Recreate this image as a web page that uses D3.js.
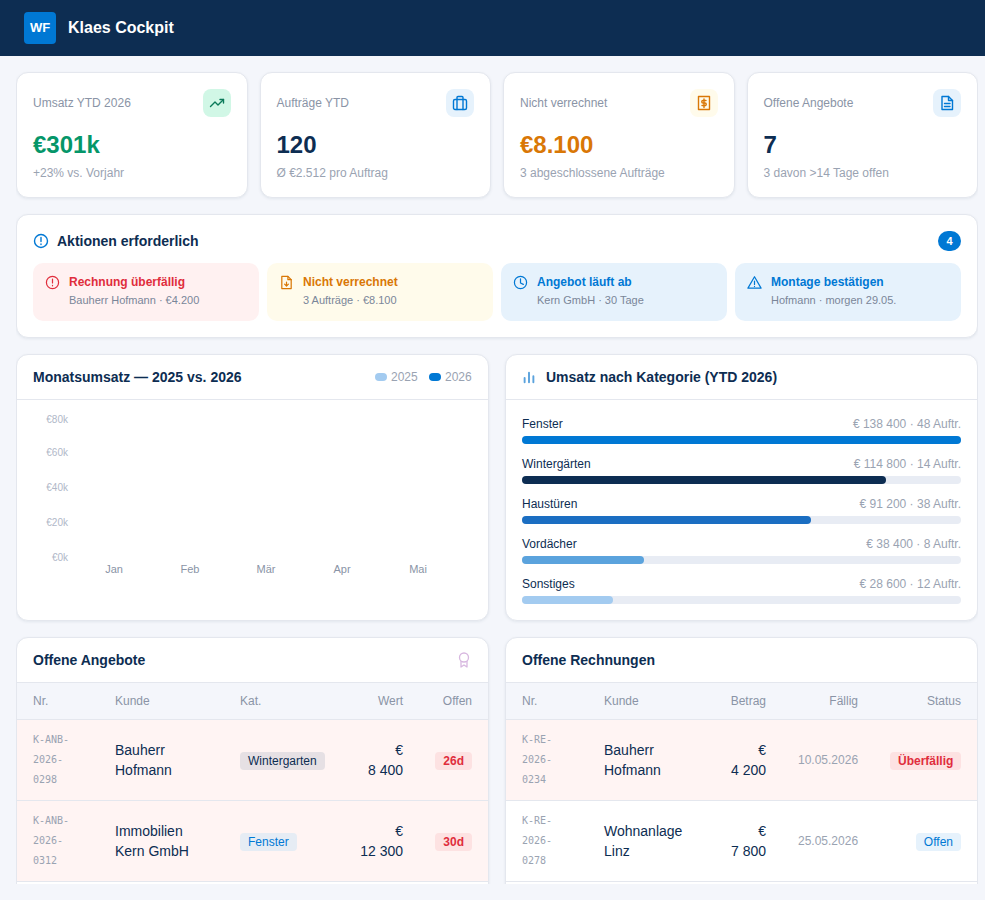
<!DOCTYPE html>
<html lang="de">
<head>
<meta charset="utf-8">
<title>Klaes Cockpit</title>
<script src="https://d3js.org/d3.v7.min.js"></script>
<style>
* { box-sizing: border-box; }
html, body { margin: 0; height: 100%; overflow: hidden; background: #f4f6fb; }
body { font-family: Arial, sans-serif; color: #0d2d52; }
.top { height: 56px; background: #0d2d52; position: relative; }
.logo { position: absolute; left: 24px; top: 12px; width: 32px; height: 32px; border-radius: 4px; background: #0078d4;
  color: #fff; font-size: 13px; font-weight: bold; line-height: 32px; text-align: center; }
.brand { position: absolute; left: 68px; top: 0; line-height: 55px; font-size: 16px; font-weight: bold; color: #fff; }
main { position: absolute; left: 16px; top: 56px; width: 962px; height: 828px; overflow: hidden; padding-top: 16px; }
.box { background: #fff; border: 1px solid #e4e7ee; border-radius: 12px; box-shadow: 0 1px 3px rgba(13,45,82,.08); }
#kpis { display: grid; grid-template-columns: repeat(4, 1fr); gap: 12px; }
.kpi { height: 126px; position: relative; }
.kpi .lab { position: absolute; left: 16px; top: 22px; line-height: 16px; font-size: 12px; color: #8a94a6; }
.kpi .val { position: absolute; left: 16px; top: 57px; line-height: 30px; font-size: 24px; font-weight: bold; }
.kpi .sub { position: absolute; left: 16px; top: 92px; line-height: 16px; font-size: 12px; color: #9aa3b2; }
.kpi .tile { position: absolute; right: 16px; top: 16px; width: 28px; height: 28px; border-radius: 8px;
  display: flex; align-items: center; justify-content: center; }
.t-green { color: #059669; } .t-navy { color: #0d2d52; } .t-amber { color: #d97706; }
.b-green { background: #d1f7e6; color: #0b7a5a; } .b-blue { background: #e6f2fc; color: #0078d4; } .b-amber { background: #fffbeb; color: #d97706; }
svg.ic { display: block; fill: none; stroke: currentColor; stroke-width: 2; stroke-linecap: round; stroke-linejoin: round; }
#actions { height: 124px; margin-top: 16px; position: relative; padding: 15px 16px; }
.actionhead { height: 33px; line-height: 22px; font-size: 14px; font-weight: bold; padding-left: 24px; position: relative; }
.actionhead .ic { position: absolute; left: 0; top: 3px; color: #0078d4; }
.count { position: absolute; right: 16px; top: 16px; width: 23px; height: 20px; border-radius: 10px; background: #0078d4;
  color: #fff; font-size: 11px; font-weight: bold; line-height: 20px; text-align: center; }
#actionList { display: grid; grid-template-columns: repeat(4, 1fr); gap: 8px; }
.act { height: 58px; border-radius: 10px; position: relative; }
.act .ic { position: absolute; left: 12px; top: 12px; }
.act .tt { position: absolute; left: 36px; top: 11px; line-height: 16px; font-size: 12px; font-weight: bold; }
.act .st { position: absolute; left: 36px; top: 29px; line-height: 16px; font-size: 11px; color: #7a8699; }
.a-red { background: #fff1f1; color: #e02d3c; } .a-amber { background: #fffbeb; color: #d97706; } .a-info { background: #e6f2fc; color: #0078d4; }
.two { display: grid; grid-template-columns: 473px 473px; gap: 16px; margin-top: 16px; }
.panel { height: 267px; position: relative; overflow: hidden; }
.phead { height: 45px; border-bottom: 1px solid #e4e7ee; padding-left: 16px; line-height: 44px; font-size: 14px; font-weight: bold; position: relative; }
.legend { position: absolute; top: 0; left: 0; font-weight: normal; font-size: 12px; color: #9aa3b2; }
.legend i { position: absolute; top: 18px; width: 12px; height: 8px; border-radius: 4px; }
.legend span { position: absolute; top: 0; }
.tick text { font-family: Arial, sans-serif; }
.catrow { position: absolute; left: 16px; width: 439px; }
.catrow .n { position: absolute; left: 0; top: 0; line-height: 16px; font-size: 12px; }
.catrow .v { position: absolute; right: 0; top: 0; line-height: 16px; font-size: 12px; color: #9aa3b2; white-space: nowrap; }
.track { position: absolute; left: 0; top: 20px; width: 439px; height: 8px; border-radius: 4px; background: #e8ecf4; }
.fill { height: 8px; border-radius: 4px; }
.tablepanel { height: 300px; }
.tablepanel .phead { height: 45px; }
table { border-collapse: collapse; table-layout: fixed; width: 471px; }
th { height: 36px; background: #f4f6fb; border-bottom: 1px solid #e4e7ee; padding: 0 16px; font-size: 12px; font-weight: normal; color: #8a94a6; text-align: left; }
td { padding: 10px 16px; border-bottom: 1px solid #e4e7ee; font-size: 14px; line-height: 20px; vertical-align: middle; }
th.r, td.r { text-align: right; }
tr.hot td { background: #fff4f3; }
td.nr { font-family: monospace; font-size: 10px; color: #9aa3b2; }
td.date { font-size: 12px; color: #9aa3b2; }
.pill { display: inline-block; height: 18px; line-height: 18px; padding: 0 8px; border-radius: 4px; font-size: 12px; vertical-align: middle; white-space: nowrap; }
.p-win { background: #e6e0e4; color: #0d2d52; } .p-fen { background: #e6ecf4; color: #0078d4; }
.p-red { background: #fde2e2; color: #e02d3c; font-weight: bold; } .p-blue { background: #e6f2fc; color: #0078d4; }
</style>
</head>
<body>
<div class="top"><div class="logo">WF</div><div class="brand">Klaes Cockpit</div></div>
<main>
  <div id="kpis"></div>
  <div id="actions" class="box">
    <div class="actionhead" id="actionTitle"></div>
    <div class="count" id="actionCount"></div>
    <div id="actionList"></div>
  </div>
  <div class="two">
    <div class="box panel">
      <div class="phead">Monatsumsatz — 2025 vs. 2026<div class="legend" id="legend"></div></div>
      <svg id="chart" width="471" height="220" style="display:block"></svg>
    </div>
    <div class="box panel">
      <div class="phead" style="padding-left:40px" id="catHead"></div>
      <div id="cats"></div>
    </div>
  </div>
  <div class="two">
    <div class="box panel tablepanel" id="angebote"></div>
    <div class="box panel tablepanel" id="rechnungen"></div>
  </div>
</main>
<script>
// kpi cards
var kpiLabels = ["Umsatz YTD 2026", "Aufträge YTD", "Nicht verrechnet", "Offene Angebote"];
var kpiValues = ["€301k", "120", "€8.100", "7"];
var kpiNotes = ["+23% vs. Vorjahr", "Ø €2.512 pro Auftrag", "3 abgeschlossene Aufträge", "3 davon >14 Tage offen"];

// action items
var actionTitles = ["Rechnung überfällig", "Nicht verrechnet", "Angebot läuft ab", "Montage bestätigen"];
var actionNotes = ["Bauherr Hofmann · €4.200", "3 Aufträge · €8.100", "Kern GmbH · 30 Tage", "Hofmann · morgen 29.05."];

// monthly chart: the picture shows the axes and the legend, no bars
var months = ["Jan", "Feb", "Mär", "Apr", "Mai"];
var legendYears = ["2025", "2026"];
var revenueTicks = [0, 20000, 40000, 60000, 80000];

// revenue by category
var catNames = ["Fenster", "Wintergärten", "Haustüren", "Vordächer", "Sonstiges"];
var catRevenue = [138400, 114800, 91200, 38400, 28600];
var catOrders = [48, 14, 38, 8, 12];

// tables
var quoteHeads = ["Nr.", "Kunde", "Kat.", "Wert", "Offen"];
var quoteNrs = ["K-ANB-2026-0298", "K-ANB-2026-0312"];
var quoteCustomers = ["Bauherr Hofmann", "Immobilien Kern GmbH"];
var quoteCats = ["Wintergarten", "Fenster"];
var quoteValues = ["€ 8\u00a0400", "€ 12\u00a0300"];
var quoteDays = ["26d", "30d"];

var invoiceHeads = ["Nr.", "Kunde", "Betrag", "Fällig", "Status"];
var invoiceNrs = ["K-RE-2026-0234", "K-RE-2026-0278"];
var invoiceCustomers = ["Bauherr Hofmann", "Wohnanlage Linz"];
var invoiceValues = ["€ 4\u00a0200", "€ 7\u00a0800"];
var invoiceDates = ["10.05.2026", "25.05.2026"];
var invoiceStatus = ["Überfällig", "Offen"];

// styling per item
var kpiText = ["t-green", "t-navy", "t-amber", "t-navy"];
var kpiTile = ["b-green", "b-blue", "b-amber", "b-blue"];
var kpiIcons = ["trend", "case", "bill", "doc"];
var actionTone = ["a-red", "a-amber", "a-info", "a-info"];
var actionIcons = ["alert", "filedown", "clock", "warn"];
var catColors = ["#0078d4", "#0d2d52", "#1b6ec2", "#5ba3dd", "#a3cbf0"];
var legendColors = ["#a3cbf0", "#0078d4"];

var iconPaths = {
  trend: '<path d="M1.5 11.5 6 7l3 3 5.5-5.5"/><path d="M11 4.5h3.5V8"/>',
  "case": '<rect x="1.5" y="4.5" width="13" height="10" rx="1.5"/><path d="M5 14.5v-12a1 1 0 0 1 1-1h4a1 1 0 0 1 1 1v12"/>',
  bill: '<rect x="2.5" y="1.5" width="11" height="13"/><path d="M10 5.5H7a1.2 1.2 0 0 0 0 2.5h2a1.2 1.2 0 0 1 0 2.5H6M8 4v8.500"/>',
  doc: '<path d="M3 1.5h6.500L13.500 5.500v9H3z"/><path d="M9.500 1.500v4h4M5.500 8.500h5.500M5.500 11.500h5.500"/>',
  alert: '<circle cx="8" cy="8" r="6.500"/><path d="M8 4.500v4M8 11v.5"/>',
  filedown: '<path d="M3 1.500h6.500L13 5v9.500H3z"/><path d="M9.500 1.500V5H13M8 7.500v4M6 9.800l2 2 2-2"/>',
  clock: '<circle cx="8" cy="8" r="6.500"/><path d="M8 4v4.500l3 1.500"/>',
  warn: '<path d="M8 1.800 15 14H1z"/><path d="M8 6.500v3.500M8 12v.3"/>',
  bars: '<path d="M3 14V9M8 14V3M13 14V7"/>',
  ribbon: '<circle cx="8" cy="5.500" r="4.500"/><path d="M5 9.500V15l3-2 3 2V9.500"/>'
};

function icon(name, size, sw) {
  return '<svg class="ic" width="' + size + '" height="' + size + '" viewBox="0 0 16 16" style="stroke-width:' + sw + '">' + iconPaths[name] + '</svg>';
}

// kpi cards
var kpi = d3.select("#kpis").selectAll("div").data(kpiLabels).join("div").attr("class", "box kpi");
kpi.append("div").attr("class", "lab").text(d => d);
kpi.append("div").attr("class", (d, i) => "val " + kpiText[i]).text((d, i) => kpiValues[i]);
kpi.append("div").attr("class", "sub").text((d, i) => kpiNotes[i]);
kpi.append("div").attr("class", (d, i) => "tile " + kpiTile[i]).html((d, i) => icon(kpiIcons[i], 16, 1.4));

// actions
d3.select("#actionTitle").html(icon("alert", 16, 1.4) + "Aktionen erforderlich");
d3.select("#actionCount").text(actionTitles.length);
var act = d3.select("#actionList").selectAll("div").data(actionTitles).join("div").attr("class", (d, i) => "act " + actionTone[i]);
act.html((d, i) => icon(actionIcons[i], 15, 1.3));
act.append("div").attr("class", "tt").text(d => d);
act.append("div").attr("class", "st").text((d, i) => actionNotes[i]);

// legend
var legendX = [358, 412];
var legend = d3.select("#legend").selectAll("g").data(legendYears).join("div");
legend.append("i").style("left", (d, i) => legendX[i] + "px").style("background", (d, i) => legendColors[i]);
legend.append("span").style("left", (d, i) => legendX[i] + 16 + "px").text(d => d);

// monthly chart axes
var svg = d3.select("#chart");
var x = d3.scaleBand().domain(months).range([59, 439]);
var y = d3.scaleLinear().domain([0, 80000]).range([157.5, 17.5]);

svg.append("g").attr("transform", "translate(59,0)")
  .call(d3.axisLeft(y).tickValues(revenueTicks).tickSize(0).tickPadding(8).tickFormat(d => "€" + d / 1000 + "k"))
  .call(g => g.select(".domain").remove())
  .call(g => g.selectAll("text").attr("fill", "#b0b8c8").style("font-size", "10px"))
  // top label is pushed down a little, it sits closer to the next one
  .call(g => g.selectAll(".tick").filter(d => d == 80000).attr("transform", "translate(0,19.5)"));

svg.append("g").attr("transform", "translate(0,157.5)")
  .call(d3.axisBottom(x).tickSize(0).tickPadding(8))
  .call(g => g.select(".domain").remove())
  .call(g => g.selectAll("text").attr("fill", "#8a94a6").style("font-size", "11px"));

// category bars
d3.select("#catHead").html('<span style="position:absolute;left:16px;top:15px;color:#5ba3dd">' + icon("bars", 14, 2.2) + '</span>Umsatz nach Kategorie (YTD 2026)');
var barScale = d3.scaleLinear().domain([0, d3.max(catRevenue)]).range([0, 439]);
var fmtEuro = v => "€ " + d3.format(",")(v).replace(",", " ");
var row = d3.select("#cats").selectAll("div").data(catNames).join("div").attr("class", "catrow")
  .style("top", (d, i) => 61 + i * 40 + "px");
row.append("div").attr("class", "n").text(d => d);
row.append("div").attr("class", "v").text((d, i) => fmtEuro(catRevenue[i]) + " · " + catOrders[i] + " Auftr.");
row.append("div").attr("class", "track").append("div").attr("class", "fill")
  .style("width", (d, i) => barScale(catRevenue[i]) + "px")
  .style("background", (d, i) => catColors[i]);

// tables
function makeTable(target, title, heads, widths, rightFrom, rows, hot) {
  var panel = d3.select(target);
  panel.append("div").attr("class", "phead").text(title);
  var table = panel.append("table");
  table.append("colgroup").selectAll("col").data(widths).join("col").style("width", d => d + "px");
  table.append("thead").append("tr").selectAll("th").data(heads).join("th")
    .attr("class", (d, i) => i >= rightFrom ? "r" : null).text(d => d);
  table.append("tbody").selectAll("tr").data(rows).join("tr")
    .attr("class", (d, i) => hot[i] ? "hot" : null)
    .selectAll("td").data(d => d).join("td")
    .attr("class", d => d.cls || null)
    .html(d => d.pill ? '<span class="pill ' + d.pill + '">' + d.text + '</span>' : d.text);
  return panel;
}

var quoteRows = quoteNrs.map((nr, i) => [
  { text: nr, cls: "nr" },
  { text: quoteCustomers[i] },
  { text: quoteCats[i], pill: i == 0 ? "p-win" : "p-fen" },
  { text: quoteValues[i], cls: "r" },
  { text: quoteDays[i], cls: "r", pill: "p-red" }
]);
makeTable("#angebote", "Offene Angebote", quoteHeads, [82, 125, 117, 78, 69], 3, quoteRows, [true, true]);
d3.select("#angebote .phead").append("span")
  .style("position", "absolute").style("left", "439px").style("top", "14px").style("color", "#d8b8e0")
  .html(icon("ribbon", 16, 1.3));

var invoiceRows = invoiceNrs.map((nr, i) => [
  { text: nr, cls: "nr" },
  { text: invoiceCustomers[i] },
  { text: invoiceValues[i], cls: "r" },
  { text: invoiceDates[i], cls: "r date" },
  { text: invoiceStatus[i], cls: "r", pill: i == 0 ? "p-red" : "p-blue" }
]);
makeTable("#rechnungen", "Offene Rechnungen", invoiceHeads, [82, 126, 68, 92, 103], 2, invoiceRows, [true, false]);
</script>
</body>
</html>
